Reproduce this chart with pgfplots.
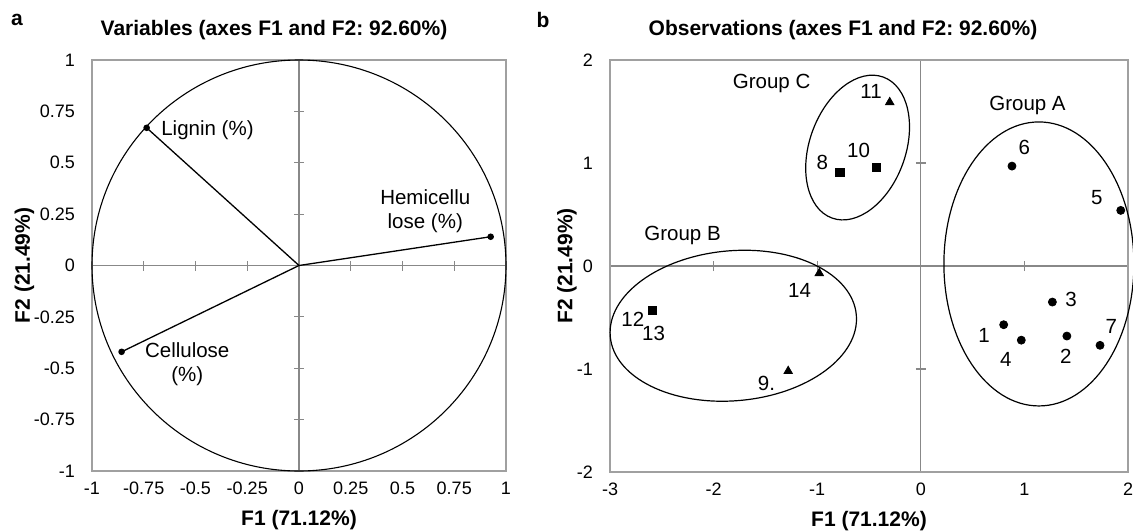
\documentclass[border=0pt]{standalone}
\usepackage{fontspec}
\setmainfont{Liberation Sans}
\usepackage{pgfplots}
\pgfplotsset{compat=1.18}
\frenchspacing

\definecolor{framegray}{RGB}{160,160,160}
\definecolor{zerogray}{RGB}{136,136,136}

\newcommand{\txt}{\fontsize{10.25}{12}\selectfont}
\newcommand{\bftxt}{\fontsize{10.5}{12}\selectfont\bfseries}

\pgfplotsset{
  pcaframe/.style={
    scale only axis, clip=false,
    axis line style={framegray, line width=0.75pt},
    major tick length=0pt,
    tick label style={font=\fontsize{9}{10}\selectfont},
    /pgf/number format/assume math mode=true,
    xticklabel style={yshift=-2pt},
    yticklabel style={xshift=-5pt},
    xlabel style={font=\bftxt, at={(axis description cs:0.5,-0.119)}, anchor=center},
    ylabel style={font=\bftxt, anchor=center},
  },
  pcazero/.style={
    scale only axis, axis lines=center,
    axis line style={zerogray, line width=0.6pt, -},
    tick style={zerogray, line width=0.6pt},
    major tick length=5pt, tick align=center,
    xticklabels={}, yticklabels={},
  },
}

\begin{document}
\begin{tikzpicture}
\useasboundingbox (0,0) rectangle (566.5pt,265.5pt);

% panel a: correlation circle
\begin{axis}[pcazero, at={(46pt,30pt)}, anchor=south west, width=207pt, height=205.5pt,
  xmin=-1, xmax=1, ymin=-1, ymax=1,
  xtick={-0.75,-0.5,-0.25,0.25,0.5,0.75}, ytick={-0.75,-0.5,-0.25,0.25,0.5,0.75}]
\end{axis}
\begin{axis}[pcaframe, at={(46pt,30pt)}, anchor=south west, width=207pt, height=205.5pt,
  xmin=-1, xmax=1, ymin=-1, ymax=1,
  xtick={-1,-0.75,-0.5,-0.25,0,0.25,0.5,0.75,1},
  ytick={-1,-0.75,-0.5,-0.25,0,0.25,0.5,0.75,1},
  xlabel={F1 (71.12\%)}, ylabel={F2 (21.49\%)},
  ylabel style={at={(axis description cs:-0.163,0.5)}}]
  \draw[black, line width=0.55pt] (axis cs:0,0) ellipse [x radius=103.5pt, y radius=102.75pt];
  \addplot[black, line width=0.65pt, mark=*, mark size=1.3pt, mark indices={2}] coordinates {(0,0) (-0.736,0.67)};
  \addplot[black, line width=0.65pt, mark=*, mark size=1.3pt, mark indices={2}] coordinates {(0,0) (0.926,0.14)};
  \addplot[black, line width=0.65pt, mark=*, mark size=1.3pt, mark indices={2}] coordinates {(0,0) (-0.857,-0.42)};
  \node[font=\txt, anchor=west, inner sep=0pt] at (axis cs:-0.667,0.66) {Lignin (\%)};
  \node[font=\txt, align=center, inner sep=0pt] at (axis cs:0.61,0.265) {Hemicellu\\lose (\%)};
  \node[font=\txt, align=center, inner sep=0pt] at (axis cs:-0.54,-0.48) {Cellulose\\(\%)};
\end{axis}

% panel b: observations
\begin{axis}[pcazero, at={(305pt,29.5pt)}, anchor=south west, width=259pt, height=206pt,
  xmin=-3, xmax=2, ymin=-2, ymax=2,
  xtick={-2,-1,1}, ytick={-1,1}]
\end{axis}
\begin{axis}[pcaframe, at={(305pt,29.5pt)}, anchor=south west, width=259pt, height=206pt,
  xmin=-3, xmax=2, ymin=-2, ymax=2,
  xtick={-3,-2,-1,0,1,2}, ytick={-2,-1,0,1,2},
  xlabel={F1 (71.12\%)}, ylabel={F2 (21.49\%)},
  ylabel style={at={(axis description cs:-0.083,0.5)}}]
  % group A
  \addplot[only marks, mark=*, mark size=2pt, black] coordinates {
    (0.80,-0.57) (1.41,-0.68) (1.27,-0.35) (0.97,-0.72) (1.93,0.54) (0.88,0.97) (1.73,-0.77)};
  % squares
  \addplot[only marks, mark=square*, mark size=2.1pt, black] coordinates {
    (-0.78,0.91) (-0.43,0.96) (-2.59,-0.43)};
  % triangles
  \addplot[only marks, mark=triangle*, mark size=2.4pt, black] coordinates {
    (-1.28,-1.02) (-0.30,1.59) (-0.98,-0.07)};
  % group outlines
  \draw[black, line width=0.6pt] (axis cs:1.14,0.02) ellipse [x radius=47.5pt, y radius=71pt];
  \draw[black, line width=0.6pt, rotate around={5:(axis cs:-1.81,-0.58)}] (axis cs:-1.81,-0.58) ellipse [x radius=61.75pt, y radius=37.5pt];
  \draw[black, line width=0.6pt, rotate around={70:(axis cs:-0.61,1.15)}] (axis cs:-0.61,1.15) ellipse [x radius=37.5pt, y radius=24pt];
  % labels
  \begin{scope}[every node/.style={font=\txt, inner sep=0pt}]
  \node at (axis cs:1.03,1.56) {Group A};
  \node at (axis cs:-2.30,0.30) {Group B};
  \node at (axis cs:-1.44,1.77) {Group C};
  \node at (axis cs:0.61,-0.67) {1};
  \node at (axis cs:1.40,-0.88) {2};
  \node at (axis cs:1.45,-0.32) {3};
  \node at (axis cs:0.82,-0.91) {4};
  \node at (axis cs:1.70,0.66) {5};
  \node at (axis cs:1.00,1.15) {6};
  \node at (axis cs:1.84,-0.59) {7};
  \node at (axis cs:-0.95,1.01) {8};
  \node at (axis cs:-1.49,-1.14) {9.};
  \node at (axis cs:-0.60,1.12) {10};
  \node at (axis cs:-0.48,1.69) {11};
  \node at (axis cs:-2.78,-0.52) {12};
  \node at (axis cs:-2.58,-0.65) {13};
  \node at (axis cs:-1.17,-0.24) {14};
  \end{scope}
\end{axis}

% titles and panel letters
\node[font=\bftxt] at (137pt,250.5pt) {Variables (axes F1 and F2: 92.60\%)};
\node[font=\bftxt] at (421.5pt,250.5pt) {Observations (axes F1 and F2: 92.60\%)};
\node[font=\bftxt] at (8.5pt,255.5pt) {a};
\node[font=\bftxt] at (271.5pt,255.5pt) {b};
\end{tikzpicture}
\end{document}
